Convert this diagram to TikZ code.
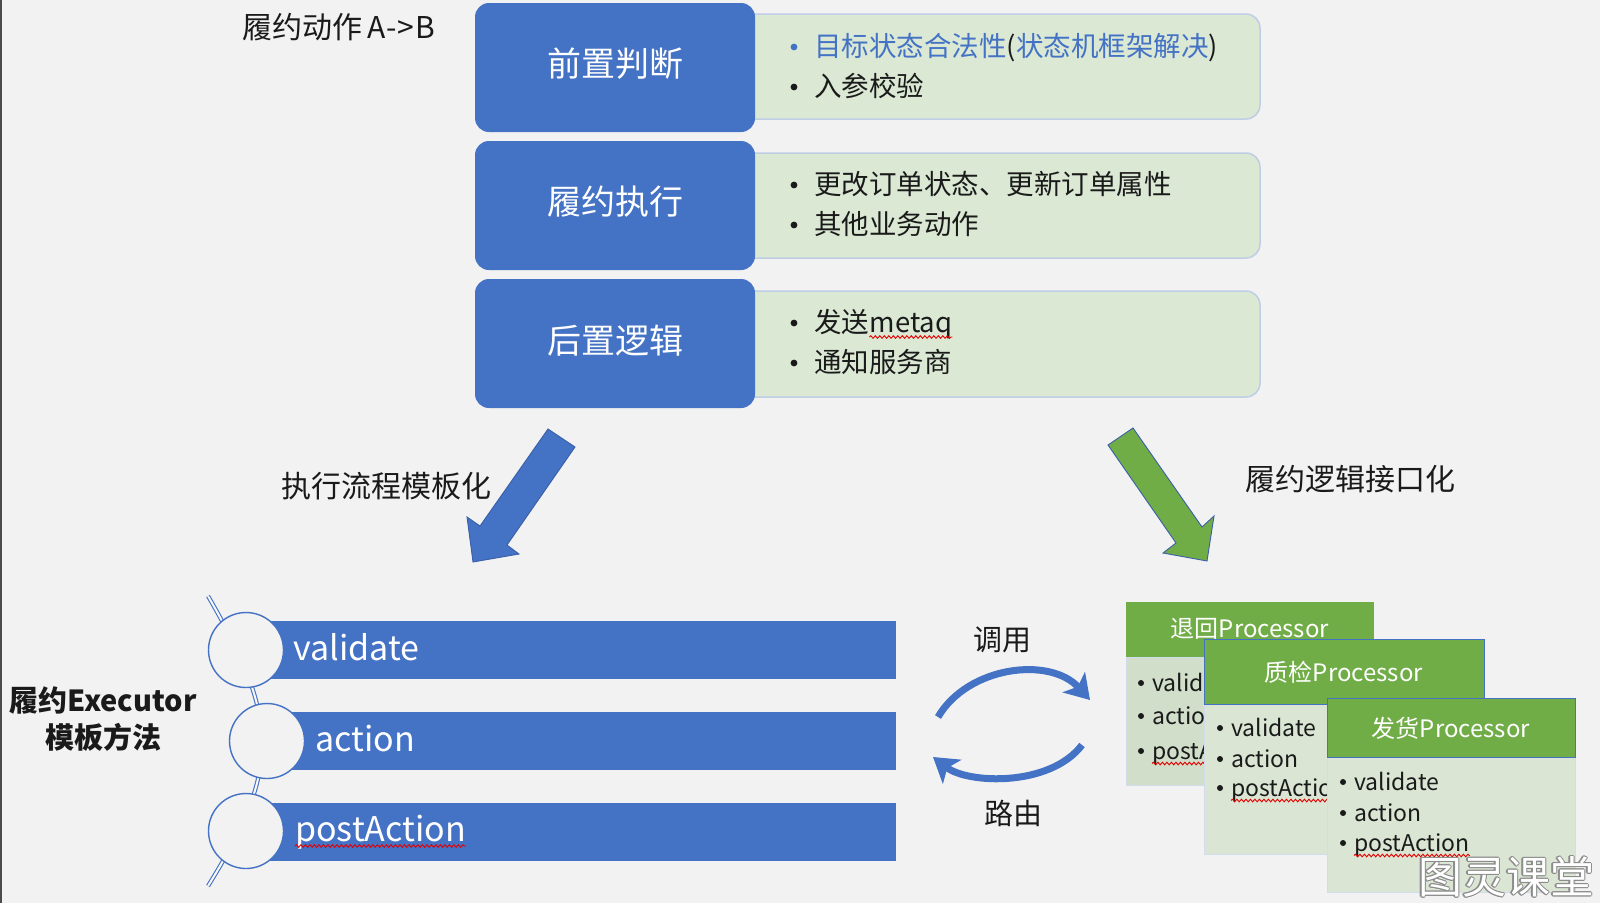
\documentclass[tikz,border=0pt]{standalone}
\usepackage{fontspec}
\setmainfont{Noto Sans CJK SC}
\usetikzlibrary{arrows.meta,calc,decorations.pathmorphing}
\definecolor{bg}{HTML}{F2F2F2}
\definecolor{mblue}{HTML}{4472C4}
\definecolor{dblue}{HTML}{3A5FA8}
\definecolor{mgreen}{HTML}{70AD47}
\definecolor{lgreen}{HTML}{DAE8D4}
\definecolor{cardbody}{HTML}{DAE6D3}
\definecolor{cardbodyA}{HTML}{D1DECA}
\definecolor{gborder}{HTML}{BFCDE6}
\definecolor{txt}{HTML}{1A1A1A}
\newcommand{\fsz}[1]{\fontsize{#1}{#1}\selectfont}
\begin{document}
\begin{tikzpicture}[x=1pt,y=-1pt,
  bluebox/.style={fill=mblue, rounded corners=14, minimum width=280, inner sep=0},
  greenbox/.style={fill=lgreen, draw=gborder, line width=1.5, rounded corners=14, minimum width=560, inner sep=0},
  boxlabel/.style={text=white, font=\fsz{34}, inner sep=0},
  lt/.style={inner sep=0, anchor=base west, text=txt, font=\fsz{27.5}},
  title/.style={inner sep=0, text=txt, font=\fsz{30}},
  bartext/.style={inner sep=0, anchor=base west, text=white, font=\fsz{34}},
  barbox/.style={fill=mblue, minimum height=58, inner sep=0},
  ring/.style={circle, draw=mblue, line width=1.4, fill=bg, minimum size=75, inner sep=0},
  chead/.style={fill=mgreen, inner sep=0, text=white, font=\fsz{24}},
  cbody/.style={fill=cardbody, draw=gborder!70, line width=0.5, inner sep=0},
  ct/.style={inner sep=0, anchor=base west, text=txt, font=\fsz{23}},
  wavy/.style={draw=red!90!black, line width=0.9, decorate, decoration={snake, segment length=4.5, amplitude=1.3}},
  bigarrow/.style={draw=dblue, line width=0.9, line join=miter},
  curvearrow/.style={draw=mblue, line width=7, -{Stealth[length=24, width=30, inset=6]}}
]
\useasboundingbox (0,0) rectangle (1600,903);
\fill[bg] (0,0) rectangle (1600,903);
\fill[black!70] (0,0) rectangle (1.6,903);

% ---------- top: stages ----------
\node[greenbox, minimum height=105] (g1) at (980,66.5) {};
\node[greenbox, minimum height=105] (g2) at (980,205.5) {};
\node[greenbox, minimum height=106] (g3) at (980,344) {};
\node[bluebox, minimum height=129] (b1) at (615,67.5) {};
\node[bluebox, minimum height=129] (b2) at (615,205.5) {};
\node[bluebox, minimum height=129] (b3) at (615,343.5) {};
\node[boxlabel] (l1) at (615,64) {前置判断};
\node[boxlabel] (l2) at (615,202) {履约执行};
\node[boxlabel] (l3) at (615,341) {后置逻辑};

\node[title, anchor=base west] (t0) at (242,38.8) {履约动作\hspace{5pt}A\hspace{1pt}-\hspace{1pt}>\hspace{1pt}B};

% bullets & texts
\fill[mblue] (794,47) circle (3.4);
\fill[txt] (794,87) circle (3.4);
\fill[txt] (794,185) circle (3.4);
\fill[txt] (794,225) circle (3.4);
\fill[txt] (794,323) circle (3.4);
\fill[txt] (794,363) circle (3.4);
\node[lt] (s11) at (814,56.5) {\textcolor{mblue}{目标状态合法性}(\textcolor{mblue}{状态机框架解决})};
\node[lt] (s12) at (814,96.5) {入参校验};
\node[lt] (s21) at (814,194.5) {更改订单状态、更新订单属性};
\node[lt] (s22) at (814,234.5) {其他业务动作};
\node[lt] (s31) at (814,332.5) {发送};
\node[lt] (s31b) at (s31.base east) {metaq};
\draw[wavy] ($(s31b.base west)+(0,4.5)$) -- ($(s31b.base east)+(0,4.5)$);
\node[lt] (s32) at (814,372.5) {通知服务商};

% ---------- big arrows ----------
\draw[bigarrow, fill=mblue] (548,429) -- (575,447) -- (507,545) -- (519,554) -- (473,562) -- (467,517) -- (480,526) -- cycle;
\draw[bigarrow, fill=mgreen] (1108,445) -- (1133,428) -- (1202,527) -- (1214,516) -- (1207,561) -- (1163,553) -- (1176,543) -- cycle;
\node[title] (ta) at (386,486) {执行流程模板化};
\node[title] (tb) at (1350,479) {履约逻辑接口化};

% ---------- template method ----------
\node[barbox, minimum width=650] (bar1) at (571,650) {};
\node[barbox, minimum width=629] (bar2) at (581.5,741) {};
\node[barbox, minimum width=650] (bar3) at (571,832) {};
\draw[draw=mblue, line width=1.1, double=bg!60!white, double distance=2]
  (208,596) .. controls (280,720) and (280,770) .. (208,886);
\node[ring] (c1) at (246,650) {};
\node[ring] (c2) at (267,741) {};
\node[ring] (c3) at (246,831) {};
\node[bartext] (v1) at (293,660) {validate};
\node[bartext] (v2) at (315,751) {action};
\node[bartext] (v3) at (295,841) {postAction};
\draw[wavy] ($(v3.base west)+(0,5)$) -- ($(v3.base east)+(0,5)$);

\node[inner sep=0, text=txt, font=\bfseries\fsz{29}] (e1) at (103,700) {履约Executor};
\node[inner sep=0, text=txt, font=\bfseries\fsz{29}] (e2) at (103,737) {模板方法};

% ---------- curved arrows ----------
\draw[curvearrow] (938,717) .. controls (968,666) and (1050,656) .. (1090,700);
\draw[curvearrow] (1082,745) .. controls (1050,787) and (968,784) .. (933,757);
\node[title, font=\fsz{29}] (call) at (1002,640) {调用};
\node[title, font=\fsz{29}] (route) at (1013,813) {路由};

% ---------- processor cards ----------
% card 1
\node[cbody, fill=cardbodyA, minimum width=248, minimum height=128] (bd1) at (1250,721) {};
\node[chead, minimum width=248, minimum height=55] (h1) at (1250,629.5) {};
\node[chead] (ht1) at (1250,629) {退回Processor};
\begin{scope}
\clip (1126,657) rectangle (1204,785);
\fill[txt] (1141,683) circle (3);
\fill[txt] (1141,716) circle (3);
\fill[txt] (1141,751) circle (3);
\node[ct] (p11) at (1152,691) {validate};
\node[ct] (p12) at (1152,724) {action};
\node[ct] (p13) at (1152,759) {postAction};
\draw[wavy] ($(p13.base west)+(0,4.5)$) -- ($(p13.base east)+(0,4.5)$);
\end{scope}
% card 2
\node[cbody, minimum width=280, minimum height=150] (bd2) at (1344,779) {};
\node[chead, draw=mblue, line width=0.8, minimum width=280, minimum height=65] (h2) at (1344,671.5) {};
\node[chead] (ht2) at (1344,672) {质检Processor};
\begin{scope}
\clip (1204,704) rectangle (1327,854);
\fill[txt] (1220,728) circle (3);
\fill[txt] (1220,759) circle (3);
\fill[txt] (1220,788) circle (3);
\node[ct] (p21) at (1231,736) {validate};
\node[ct] (p22) at (1231,767) {action};
\node[ct] (p23) at (1231,796) {postAction};
\draw[wavy] ($(p23.base west)+(0,4.5)$) -- ($(p23.base east)+(0,4.5)$);
\end{scope}
% card 3
\node[cbody, minimum width=248, minimum height=135] (bd3) at (1451,824.5) {};
\node[chead, draw=mblue, line width=0.8, minimum width=248, minimum height=59] (h3) at (1451,727.5) {};
\node[chead] (ht3) at (1451,728) {发货Processor};
\fill[txt] (1343,782) circle (3);
\fill[txt] (1343,813) circle (3);
\fill[txt] (1343,843) circle (3);
\node[ct] (p31) at (1354,790) {validate};
\node[ct] (p32) at (1354,821) {action};
\node[ct] (p33) at (1354,851) {postAction};
\draw[wavy] ($(p33.base west)+(0,4.5)$) -- ($(p33.base east)+(0,4.5)$);

% ---------- watermark ----------
\foreach \dx/\dy [count=\i] in {-1.3/0,1.3/0,0/-1.3,0/1.3,-0.9/-0.9,0.9/0.9,-0.9/0.9,0.9/-0.9}
  \node[inner sep=0, text=black!45, font=\fsz{44}] (wmo\i) at (1506+\dx,877+\dy) {图灵课堂};
\node[inner sep=0, text=white, font=\fsz{44}] (wm) at (1506,877) {图灵课堂};
\end{tikzpicture}
\end{document}
